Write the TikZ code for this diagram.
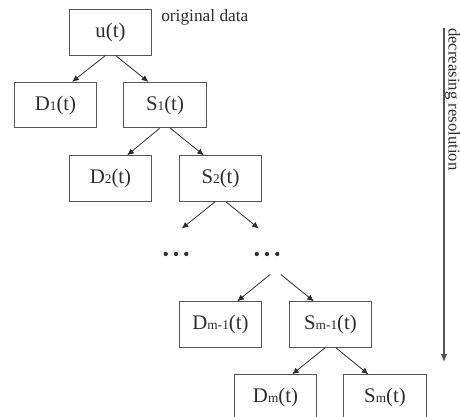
\documentclass[tikz,border=0pt]{standalone}
\usepackage{fontspec}
\setmainfont{Liberation Serif}
\usetikzlibrary{arrows.meta}
\definecolor{ink}{RGB}{45,45,45}
\definecolor{frame}{RGB}{85,85,85}
\newcommand{\lvl}[1]{{\fontsize{10}{10}\selectfont #1}}
\tikzset{
  box/.style={draw=frame, line width=0.8pt, minimum width=62pt, minimum height=34pt,
    inner sep=0pt, text=ink, font=\fontsize{15.6}{18}\selectfont},
  gap/.style={minimum width=62pt, minimum height=34pt, inner sep=0pt},
  note/.style={text=ink, font=\fontsize{13}{15}\selectfont, inner sep=0pt},
  link/.style={-{Latex[length=5pt, width=4.5pt]}, ink, line width=0.6pt},
}
\begin{document}
\begin{tikzpicture}[x=0.75pt, y=-0.75pt]
  \useasboundingbox (0,0) rectangle (460,417);
  % the tree, one level per row
  \node[box] (u) at (110.5,32.5) {u(t)};
  \node[box] (d1) at (55.5,105) {D\lvl{1}(t)};
  \node[box] (s1) at (165,105) {S\lvl{1}(t)};
  \node[box] (d2) at (110.5,178.5) {D\lvl{2}(t)};
  \node[box] (s2) at (220.5,178.5) {S\lvl{2}(t)};
  \node[gap] (d3) at (165,251.5) {};
  \node[gap] (s3) at (275.5,251.5) {};
  \node[box] (dm1) at (220.5,324.5) {D\lvl{m-1}(t)};
  \node[box] (sm1) at (330.5,324.5) {S\lvl{m-1}(t)};
  \node[box] (dm) at (275.5,397.5) {D\lvl{m}(t)};
  \node[box] (sm) at (385,397.5) {S\lvl{m}(t)};
  % skipped levels
  \coordinate (dl) at (176,254);
  \coordinate (dr) at (267,254);
  \foreach \c in {dl,dr}
    \foreach \i in {-1,0,1}
      \fill[ink] ([xshift=\i*7.7pt]\c) circle (1.6pt);
  % splits
  \foreach \p/\l/\r in {u/d1/s1, s1/d2/s2, s2/d3/s3, s3/dm1/sm1, sm1/dm/sm} {
    \draw[link] ([xshift=-4pt]\p.south) -- ([xshift=12.5pt]\l.north);
    \draw[link] ([xshift=4pt]\p.south) -- ([xshift=-12.5pt]\r.north);
  }
  \node[note, anchor=base west] (orig) at (161,21.5) {original data};
  % resolution axis
  \coordinate (top) at (444,28);
  \coordinate (bot) at (444,362);
  \draw[-{Latex[length=6pt, width=5pt]}, frame, line width=0.8pt] (top) -- (bot);
  \node[note, font=\fontsize{12.5}{15}\selectfont, rotate=-90, anchor=base west] (res)
    at (448.5,28) {decreasing resolution};
\end{tikzpicture}
\end{document}
